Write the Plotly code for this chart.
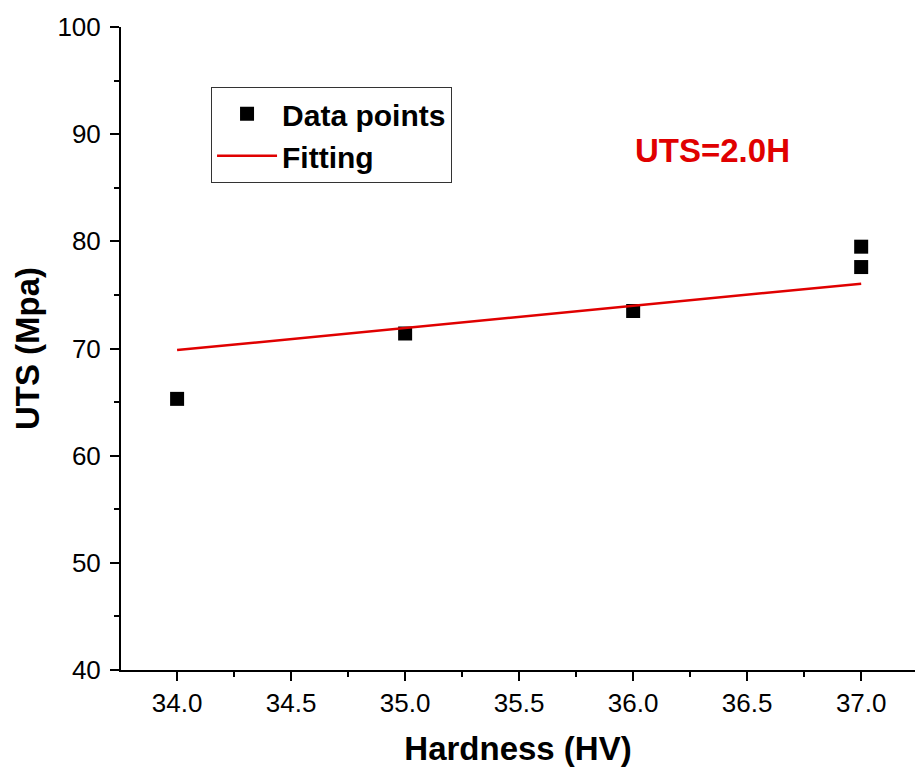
import plotly.graph_objects as go

hardness = [34.0, 35.0, 36.0, 37.0, 37.0]
uts = [65.3, 71.4, 73.5, 77.6, 79.5]
fit_x = [34.0, 37.0]
fit_y = [69.85, 76.05]

FONT = "Liberation Sans, Arial, sans-serif"

fig = go.Figure()
fig.add_trace(go.Scatter(x=hardness, y=uts, mode="markers", name="<b>Data points</b>",
                         marker=dict(symbol="square", size=14, color="black")))
fig.add_trace(go.Scatter(x=fit_x, y=fit_y, mode="lines", name="<b>Fitting</b>",
                         line=dict(color="#e00000", width=2.5)))

fig.add_annotation(x=36.35, y=88.5, text="<b>UTS=2.0H</b>", showarrow=False,
                   font=dict(family=FONT, size=33, color="#e00000"))

fig.update_layout(
    width=915, height=774,
    margin=dict(l=121, r=0, t=27, b=104),
    plot_bgcolor="white", paper_bgcolor="white",
    font=dict(family=FONT, color="black"),
    showlegend=True,
    legend=dict(x=0.1134, y=0.907, xanchor="left", yanchor="top",
                bordercolor="#333", borderwidth=1, bgcolor="white",
                font=dict(family=FONT, size=30, color="black"),
                itemwidth=60, tracegroupgap=0),
    xaxis=dict(range=[33.754, 37.236], tickmode="array",
               tickvals=[34.0, 34.5, 35.0, 35.5, 36.0, 36.5, 37.0],
               ticktext=["34.0", "34.5", "35.0", "35.5", "36.0", "36.5", "37.0"],
               ticks="outside", ticklen=9, tickwidth=2, tickcolor="black",
               showline=True, linecolor="black", linewidth=2,
               showgrid=False, zeroline=False,
               tickfont=dict(family=FONT, size=26, color="black"),
               minor=dict(tickvals=[34.25, 34.75, 35.25, 35.75, 36.25, 36.75],
                          ticks="outside", ticklen=5, tickwidth=2, tickcolor="black"),
               title=dict(text="<b>Hardness (HV)</b>", standoff=20,
                          font=dict(family=FONT, size=33, color="black"))),
    yaxis=dict(range=[40, 100], tickmode="array",
               tickvals=[40, 50, 60, 70, 80, 90, 100],
               ticks="outside", ticklen=9, tickwidth=2, tickcolor="black",
               ticklabelstandoff=4,
               showline=True, linecolor="black", linewidth=2,
               showgrid=False, zeroline=False,
               tickfont=dict(family=FONT, size=26, color="black"),
               minor=dict(tickvals=[45, 55, 65, 75, 85, 95],
                          ticks="outside", ticklen=5, tickwidth=2, tickcolor="black"),
               title=dict(text="<b>UTS (Mpa)</b>", standoff=8,
                          font=dict(family=FONT, size=33, color="black"))),
)

fig.write_html("out.html")
